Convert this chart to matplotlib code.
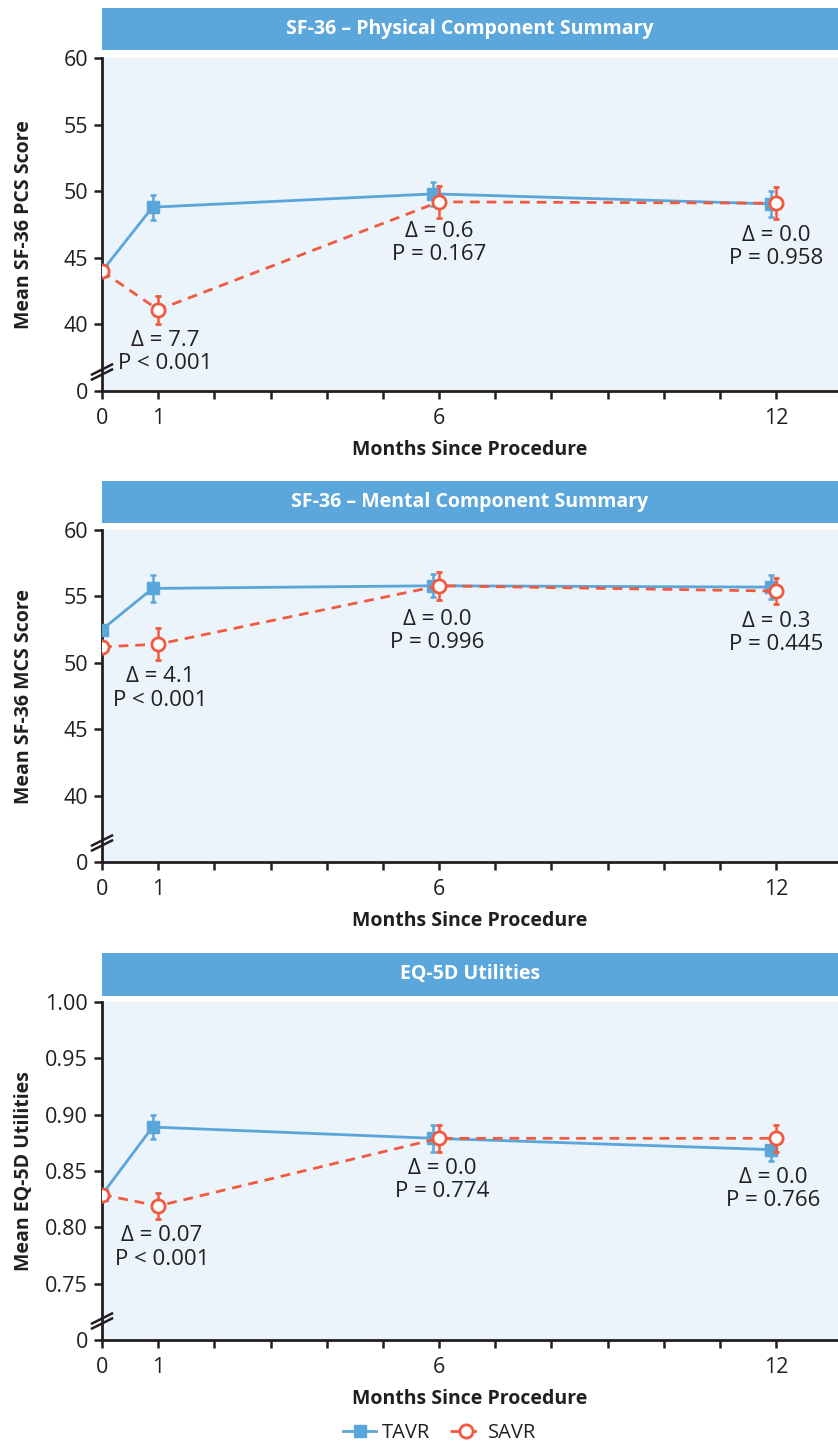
import matplotlib
matplotlib.use("Agg")
import matplotlib.pyplot as plt
from matplotlib.lines import Line2D
import numpy as np

plt.rcParams['font.family'] = ['Open Sans', 'DejaVu Sans']

# ---------------- data ----------------
months = [0, 1, 6, 12]

pcs_tavr = [44.0, 48.8, 49.8, 49.05]
pcs_tavr_err = [0.0, 0.95, 0.9, 1.0]
pcs_savr = [44.0, 41.1, 49.2, 49.1]
pcs_savr_err = [0.0, 1.05, 1.2, 1.2]

mcs_tavr = [52.5, 55.6, 55.8, 55.7]
mcs_tavr_err = [0.0, 1.0, 0.85, 0.9]
mcs_savr = [51.2, 51.4, 55.8, 55.4]
mcs_savr_err = [0.0, 1.2, 1.05, 1.0]

eq_tavr = [0.829, 0.889, 0.879, 0.869]
eq_tavr_err = [0.0, 0.011, 0.012, 0.010]
eq_savr = [0.829, 0.819, 0.879, 0.879]
eq_savr_err = [0.0, 0.0115, 0.012, 0.012]

pcs_ticks = [35, 40, 45, 50, 55, 60]
pcs_ticklabels = ['0', '40', '45', '50', '55', '60']
mcs_ticks = [35, 40, 45, 50, 55, 60]
mcs_ticklabels = ['0', '40', '45', '50', '55', '60']
eq_ticks = [0.70, 0.75, 0.80, 0.85, 0.90, 0.95, 1.00]
eq_ticklabels = ['0', '0.75', '0.80', '0.85', '0.90', '0.95', '1.00']

xticks = list(range(0, 13))
xticklabels = ['0', '1', '', '', '', '', '6', '', '', '', '', '', '12']

titles = ['SF-36 \u2013 Physical Component Summary',
          'SF-36 \u2013 Mental Component Summary',
          'EQ-5D Utilities']
ylabels = ['Mean SF-36 PCS Score', 'Mean SF-36 MCS Score', 'Mean EQ-5D Utilities']

pcs_notes = ['\u0394 = 7.7\nP < 0.001', '\u0394 = 0.6\nP = 0.167', '\u0394 = 0.0\nP = 0.958']
mcs_notes = ['\u0394 = 4.1\nP < 0.001', '\u0394 = 0.0\nP = 0.996', '\u0394 = 0.3\nP = 0.445']
eq_notes = ['\u0394 = 0.07\nP < 0.001', '\u0394 = 0.0\nP = 0.774', '\u0394 = 0.0\nP = 0.766']

# annotation anchor positions (month, value)
pcs_note_pos = [(1.12, 37.95), (6.0, 46.1), (12.0, 45.8)]
mcs_note_pos = [(1.03, 48.05), (5.96, 52.4), (12.0, 52.25)]
eq_note_pos = [(1.07, 0.782), (6.05, 0.842), (11.95, 0.834)]

# ---------------- style ----------------
W, H = 838, 1446
TAVR_C = '#5aa6db'
SAVR_C = '#f15a3e'
BAND_C = '#5ba6da'
BG_C = '#ebf3fb'
TXT_C = '#231f20'
dodge = 0.1

fig = plt.figure(figsize=(W / 100, H / 100), dpi=100)

panels = [
    dict(top=58, bottom=391, band=(8, 50), ylim=(35, 60),
         tavr=pcs_tavr, te=pcs_tavr_err, savr=pcs_savr, se=pcs_savr_err,
         ticks=pcs_ticks, tl=pcs_ticklabels, notes=pcs_notes, npos=pcs_note_pos),
    dict(top=530, bottom=862, band=(481, 523), ylim=(35, 60),
         tavr=mcs_tavr, te=mcs_tavr_err, savr=mcs_savr, se=mcs_savr_err,
         ticks=mcs_ticks, tl=mcs_ticklabels, notes=mcs_notes, npos=mcs_note_pos),
    dict(top=1002, bottom=1340, band=(953, 996), ylim=(0.70, 1.00),
         tavr=eq_tavr, te=eq_tavr_err, savr=eq_savr, se=eq_savr_err,
         ticks=eq_ticks, tl=eq_ticklabels, notes=eq_notes, npos=eq_note_pos),
]

left_px = 102
for i, p in enumerate(panels):
    ax = fig.add_axes([left_px / W, 1 - p['bottom'] / H,
                       (W - left_px) / W, (p['bottom'] - p['top']) / H])
    ax.set_facecolor(BG_C)
    ax.set_xlim(0, 13.1)
    ax.set_ylim(*p['ylim'])
    for s in ['top', 'right']:
        ax.spines[s].set_visible(False)
    for s in ['left', 'bottom']:
        ax.spines[s].set_linewidth(2.0)
        ax.spines[s].set_color(TXT_C)
    ax.set_xticks(xticks)
    ax.set_xticklabels(xticklabels)
    ax.set_yticks(p['ticks'])
    ax.set_yticklabels(p['tl'])
    ax.tick_params(axis='both', direction='out', length=6, width=1.8,
                   colors=TXT_C, labelsize=15.5, pad=4)
    ax.tick_params(axis='x', pad=6)

    xt = [m - dodge if m > 0 else m for m in months]
    ax.errorbar(xt, p['tavr'], yerr=p['te'], color=TAVR_C, lw=2.0,
                marker='s', ms=8.5, mfc=TAVR_C, mec=TAVR_C,
                elinewidth=1.8, capsize=2.5, capthick=1.8, zorder=3)
    ax.errorbar(months, p['savr'], yerr=p['se'], color=SAVR_C, lw=2.0,
                ls=(0, (3.5, 2.5)), marker='o', ms=9.5, mfc='white', mec=SAVR_C,
                mew=2.0, elinewidth=1.8, capsize=2.5, capthick=1.8, zorder=4)

    for txt, (nx, ny) in zip(p['notes'], p['npos']):
        ax.text(nx, ny, txt, ha='center', va='center', fontsize=16,
                color=TXT_C, linespacing=1.15, zorder=5)

    ax.set_xlabel('Months Since Procedure', fontsize=14, fontweight='bold',
                  color=TXT_C, labelpad=8)
    ax.set_ylabel(ylabels[i], fontsize=14, fontweight='bold', color=TXT_C)
    ax.yaxis.set_label_coords(-0.093, 0.5)

    # axis break marks
    hpx = p['bottom'] - p['top']
    wpx = W - left_px
    cy = 19 / hpx
    for off in (-2.5, 2.5):
        x0, x1 = -10 / wpx, 10 / wpx
        y0, y1 = cy + (off - 5) / hpx, cy + (off + 5) / hpx
        ax.plot([x0, x1], [y0, y1], transform=ax.transAxes, color=TXT_C,
                lw=1.8, clip_on=False, zorder=6)

    # title band
    b0, b1 = p['band']
    bax = fig.add_axes([left_px / W, 1 - b1 / H, (W - left_px) / W, (b1 - b0) / H])
    bax.set_facecolor(BAND_C)
    bax.set_xticks([])
    bax.set_yticks([])
    for s in bax.spines.values():
        s.set_visible(False)
    bax.text(0.5, 0.5, titles[i], ha='center', va='center', color='white',
             fontsize=14, fontweight='bold', transform=bax.transAxes)

handles = [
    Line2D([0], [0], color=TAVR_C, lw=2.0, marker='s', ms=8.5, mfc=TAVR_C, mec=TAVR_C),
    Line2D([0], [0], color=SAVR_C, lw=2.0, ls=(0, (3.5, 2.5)), marker='o', ms=9.5,
           mfc='white', mec=SAVR_C, mew=2.0),
]
leg = fig.legend(handles, ['TAVR', 'SAVR'], loc='center', ncol=2, frameon=False,
                 bbox_to_anchor=(440 / W, 1 - 1433 / H), fontsize=14.5,
                 handlelength=1.6, handletextpad=0.3, columnspacing=1.0)
for t in leg.get_texts():
    t.set_color(TXT_C)

fig.savefig('out.png', dpi=100)
